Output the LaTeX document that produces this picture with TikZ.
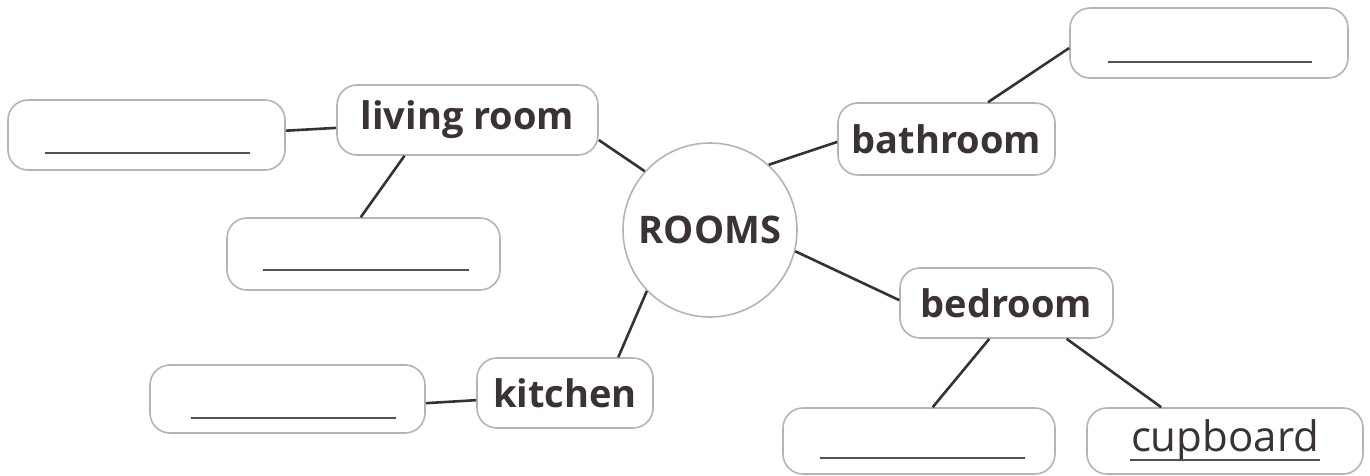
\documentclass[tikz,border=0pt]{standalone}
\usepackage{fontspec}
\setmainfont{Open Sans}
\usetikzlibrary{calc}
\definecolor{txt}{HTML}{3A3236}
\definecolor{edge}{HTML}{B4B4B4}
\definecolor{conn}{HTML}{333333}
\tikzset{
  rbox/.style={draw=edge, line width=1.6pt, rounded corners=20pt, fill=white, inner sep=0pt, text=txt},
  lbl/.style={rbox, font=\fontsize{38}{44}\selectfont\bfseries},
  conn/.style={draw=conn, line width=2.6pt},
  uline/.style={draw=conn!85, line width=1.6pt},
}
\begin{document}
\begin{tikzpicture}[x=1pt,y=-1pt]
\useasboundingbox (0,0) rectangle (1370,476);
% nodes
\node[rbox, minimum width=277pt, minimum height=70pt] (lr1) at (146.5,135) {};
\node[lbl, minimum width=261pt, minimum height=70pt] (lr) at (467.5,120) {living room};
\node[rbox, minimum width=273pt, minimum height=72pt] (lr2) at (363.5,254) {};
\node[draw=edge, line width=1.6pt, circle, fill=white, minimum size=174pt, inner sep=0pt, text=txt, font=\fontsize{38}{44}\selectfont\bfseries] (rooms) at (710,230) {ROOMS};
\node[lbl, minimum width=217pt, minimum height=72pt] (bath) at (946.5,139) {bathroom};
\node[rbox, minimum width=278pt, minimum height=70pt] (bath1) at (1209,43) {};
\node[lbl, minimum width=213pt, minimum height=70pt] (bed) at (1006.5,303) {bedroom};
\node[rbox, minimum width=272pt, minimum height=66pt] (bed1) at (919,441) {};
\node[rbox, minimum width=276pt, minimum height=66pt, font=\fontsize{42}{48}\selectfont] (cup) at (1225,441) {cupboard};
\node[lbl, minimum width=176pt, minimum height=70pt] (kit) at (565,393) {kitchen};
\node[rbox, minimum width=275pt, minimum height=68pt] (kit1) at (287.5,399) {};
% underlines
\draw[uline] ($(lr1.center)+(-102,18)$) -- ++(205,0);
\draw[uline] ($(lr2.center)+(-101,16)$) -- ++(206,0);
\draw[uline] ($(bath1.center)+(-101,19)$) -- ++(204,0);
\draw[uline] ($(bed1.center)+(-99,17)$) -- ++(205,0);
\draw[uline] ($(kit1.center)+(-97,19)$) -- ++(205,0);
\draw[uline] ($(cup.center)+(-95,19)$) -- ++(190,0);
% connectors
\draw[conn] ($(lr1.north east)!0.44!(lr1.south east)$) -- ($(lr.north west)!0.61!(lr.south west)$);
\draw[conn] ($(lr.south west)!0.26!(lr.south east)$) -- ($(lr2.north west)!0.49!(lr2.north east)$);
\draw[conn] ($(lr.north east)!0.78!(lr.south east)$) -- (rooms.138);
\draw[conn] (rooms.48) -- ($(bath.north west)!0.54!(bath.south west)$);
\draw[conn] ($(bath.north west)!0.69!(bath.north east)$) -- ($(bath1.north west)!0.57!(bath1.south west)$);
\draw[conn] (rooms.-14) -- ($(bed.north west)!0.46!(bed.south west)$);
\draw[conn] ($(bed.south west)!0.42!(bed.south east)$) -- ($(bed1.north west)!0.55!(bed1.north east)$);
\draw[conn] ($(bed.south west)!0.78!(bed.south east)$) -- ($(cup.north west)!0.27!(cup.north east)$);
\draw[conn] (rooms.-136) -- ($(kit.north west)!0.80!(kit.north east)$);
\draw[conn] ($(kit1.north east)!0.56!(kit1.south east)$) -- ($(kit.north west)!0.60!(kit.south west)$);
\end{tikzpicture}
\end{document}
